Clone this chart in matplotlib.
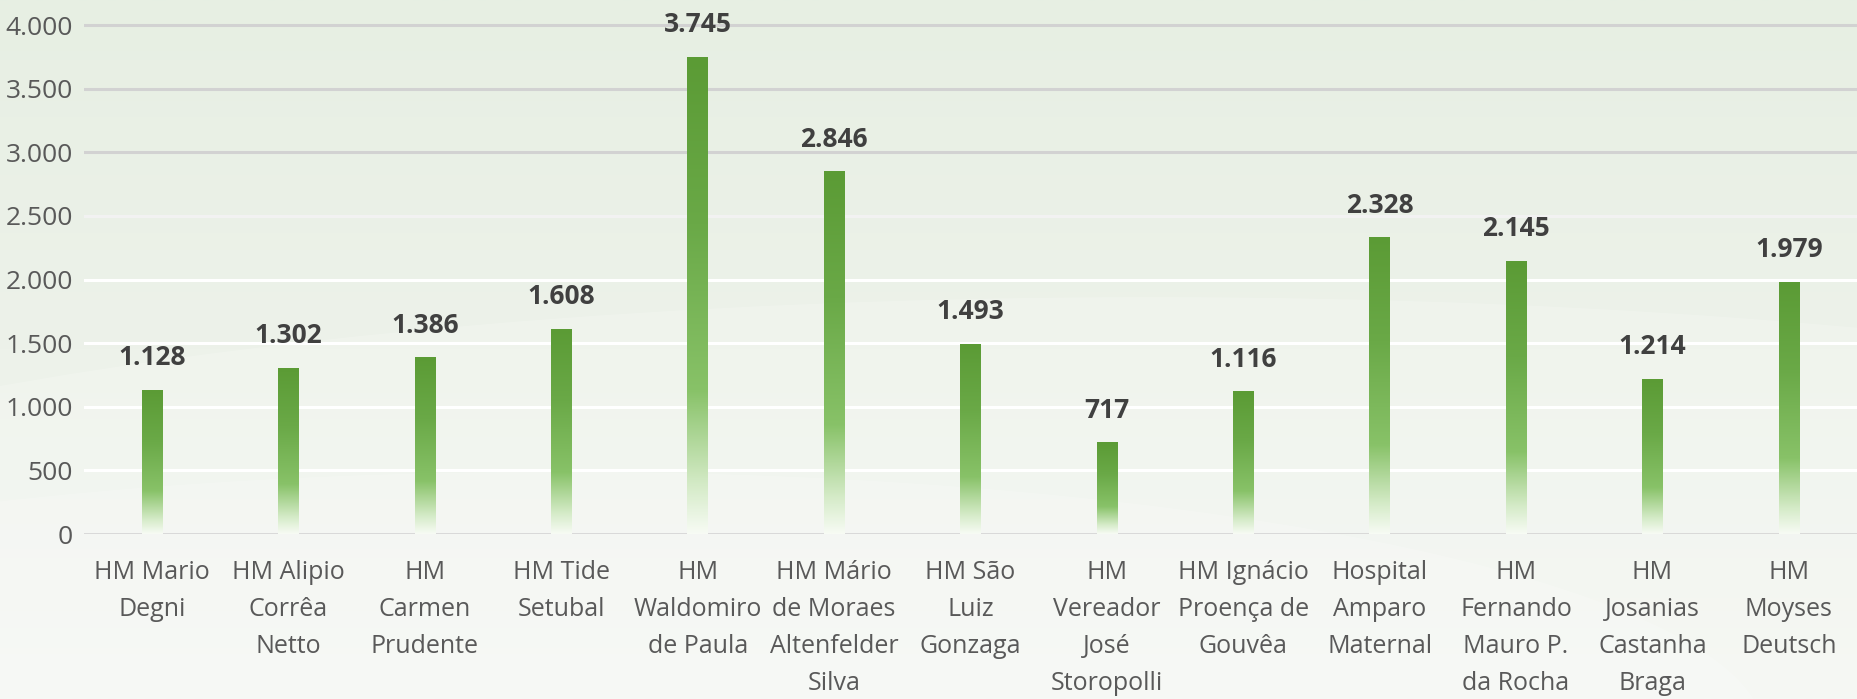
import numpy as np
import matplotlib
matplotlib.use("Agg")
import matplotlib.pyplot as plt
from matplotlib.colors import LinearSegmentedColormap
from matplotlib.patches import Ellipse

# -------- DATA --------
hospitals = [
    "HM Mario\nDegni",
    "HM Alipio\nCorrêa\nNetto",
    "HM\nCarmen\nPrudente",
    "HM Tide\nSetubal",
    "HM\nWaldomiro\nde Paula",
    "HM Mário\nde Moraes\nAltenfelder\nSilva",
    "HM São\nLuiz\nGonzaga",
    "HM\nVereador\nJosé\nStoropolli",
    "HM Ignácio\nProença de\nGouvêa",
    "Hospital\nAmparo\nMaternal",
    "HM\nFernando\nMauro P.\nda Rocha",
    "HM\nJosanias\nCastanha\nBraga",
    "HM\nMoyses\nDeutsch",
]
values = [1128, 1302, 1386, 1608, 3745, 2846, 1493, 717, 1116, 2328, 2145, 1214, 1979]
y_ticks = [0, 500, 1000, 1500, 2000, 2500, 3000, 3500, 4000]


def br(n):
    # Portuguese thousands separator
    return f"{n:,}".replace(",", ".")


plt.rcParams['font.family'] = ['Open Sans', 'DejaVu Sans']

fig = plt.figure(figsize=(18.57, 6.99), dpi=100)

# -------- BACKGROUND --------
bg = fig.add_axes([0, 0, 1, 1], zorder=-10)
bg_cmap = LinearSegmentedColormap.from_list("bg", ["#e7efe3", "#edf2ea", "#f4f7f2"])
bg.imshow(np.linspace(0, 1, 256).reshape(-1, 1), cmap=bg_cmap, aspect="auto",
          extent=[0, 1, 0, 1], origin="upper")
bg.add_patch(Ellipse((0.62, 0.05), 1.9, 1.05, facecolor="white", alpha=0.18, lw=0))
bg.add_patch(Ellipse((0.30, -0.05), 1.3, 0.75, facecolor="white", alpha=0.18, lw=0))
bg.set_xlim(0, 1)
bg.set_ylim(0, 1)
bg.axis("off")

# -------- CHART --------
ax = fig.add_axes([0.0452, 0.236, 0.9548, 0.7464])
ax.set_facecolor("none")

bar_cmap = LinearSegmentedColormap.from_list(
    "bar", [(0.0, "#f7fbf4"), (0.1, "#d5ebc8"), (0.3, "#88c268"),
            (0.65, "#6aa947"), (1.0, "#5b9b35")])
grad = np.linspace(0, 1, 256).reshape(-1, 1)

x = np.arange(len(values))
bw = 0.15
for xi, v in zip(x, values):
    ax.imshow(grad, cmap=bar_cmap, aspect="auto", origin="lower",
              extent=[xi - bw / 2, xi + bw / 2, 0, v], zorder=3)
    ax.annotate(br(v), (xi, v), xytext=(0, 23.5), textcoords="offset points",
                ha="center", va="center", fontsize=19, fontweight="bold",
                color="#404040", zorder=4)

# gridlines: grey at the top, white lower down
for t in y_ticks[1:]:
    if t >= 3000:
        c = "#d2d2d2"
    elif t == 2500:
        c = "#f2f2f2"
    else:
        c = "white"
    ax.axhline(t, color=c, lw=2.2, zorder=1)
ax.axhline(0, color="#d6d6d6", lw=2, zorder=2)

ax.set_xlim(-0.5, 12.5)
ax.set_ylim(0, 4100)
ax.set_yticks(y_ticks)
ax.set_yticklabels([br(t) for t in y_ticks])
ax.set_xticks(x)
ax.set_xticklabels(hospitals, linespacing=1.62)

ax.tick_params(axis="y", length=0, pad=8, labelsize=19, labelcolor="#595959")
ax.tick_params(axis="x", length=0, pad=19, labelsize=18, labelcolor="#595959")
for s in ax.spines.values():
    s.set_visible(False)

fig.savefig("out.png", dpi=100)
